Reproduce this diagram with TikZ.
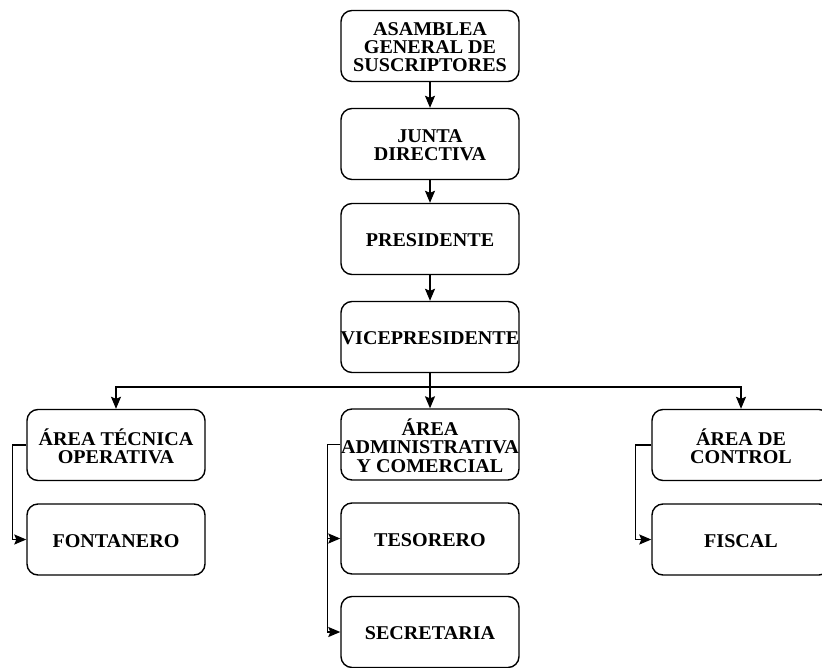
\documentclass[tikz,border=0pt]{standalone}
\usepackage{fontspec}
\setmainfont{Liberation Serif}
\newfontfamily\boxfont[FakeStretch=1.03]{Liberation Serif}
\usetikzlibrary{arrows.meta}
\newcommand\boxtext[1]{\makebox[0pt]{\smash{\raisebox{-9pt}{\begin{tabular}[c]{@{}c@{}}#1\end{tabular}}}}}
\begin{document}
\begin{tikzpicture}[x=1pt,y=-1pt,
  box/.style={draw, rounded corners=11pt, line width=1.4pt, minimum width=178pt, minimum height=71pt,
    font=\boxfont\fontsize{19.5}{18}\selectfont\bfseries, inner sep=0pt},
  conn/.style={line width=1.4pt, -{Stealth[length=12pt,width=10pt,inset=2pt]}}]
\useasboundingbox (0,0) rectangle (822,667);
\clip (0,0) rectangle (822,667);
\node[box] (asamblea) at (430,46) {\boxtext{ASAMBLEA\\GENERAL DE\\SUSCRIPTORES}};
\node[box] (junta) at (430,144) {\boxtext{JUNTA\\DIRECTIVA}};
\node[box] (presidente) at (430,239) {\boxtext{PRESIDENTE}};
\node[box] (vice) at (430,337) {\boxtext{VICEPRESIDENTE}};
\node[box] (admin) at (430,444.5) {\boxtext{ÁREA\\ADMINISTRATIVA\\Y COMERCIAL}};
\node[box] (tesorero) at (430,538.5) {\boxtext{TESORERO}};
\node[box] (secretaria) at (430,632) {\boxtext{SECRETARIA}};
\node[box] (tecnica) at (116,445) {\boxtext{ÁREA TÉCNICA\\OPERATIVA}};
\node[box] (fontanero) at (116,539.5) {\boxtext{FONTANERO}};
\node[box] (control) at (741,445) {\boxtext{ÁREA DE\\CONTROL}};
\node[box] (fiscal) at (741,539.5) {\boxtext{FISCAL}};
\coordinate (branch) at (430,387);
\draw[conn] (asamblea) -- (junta);
\draw[conn] (junta) -- (presidente);
\draw[conn] (presidente) -- (vice);
\draw[conn] (vice) -- (admin);
\draw[conn] (branch) -| (tecnica.north);
\draw[conn] (branch) -| (control.north);
\draw[conn] (tecnica.west) -- ++(-14,0) |- (fontanero.west);
\draw[conn] (admin.west) -- ++(-13,0) |- (tesorero.west);
\draw[conn] (admin.west) -- ++(-13,0) |- (secretaria.west);
\draw[conn] (control.west) -- ++(-16,0) |- (fiscal.west);
\end{tikzpicture}
\end{document}
